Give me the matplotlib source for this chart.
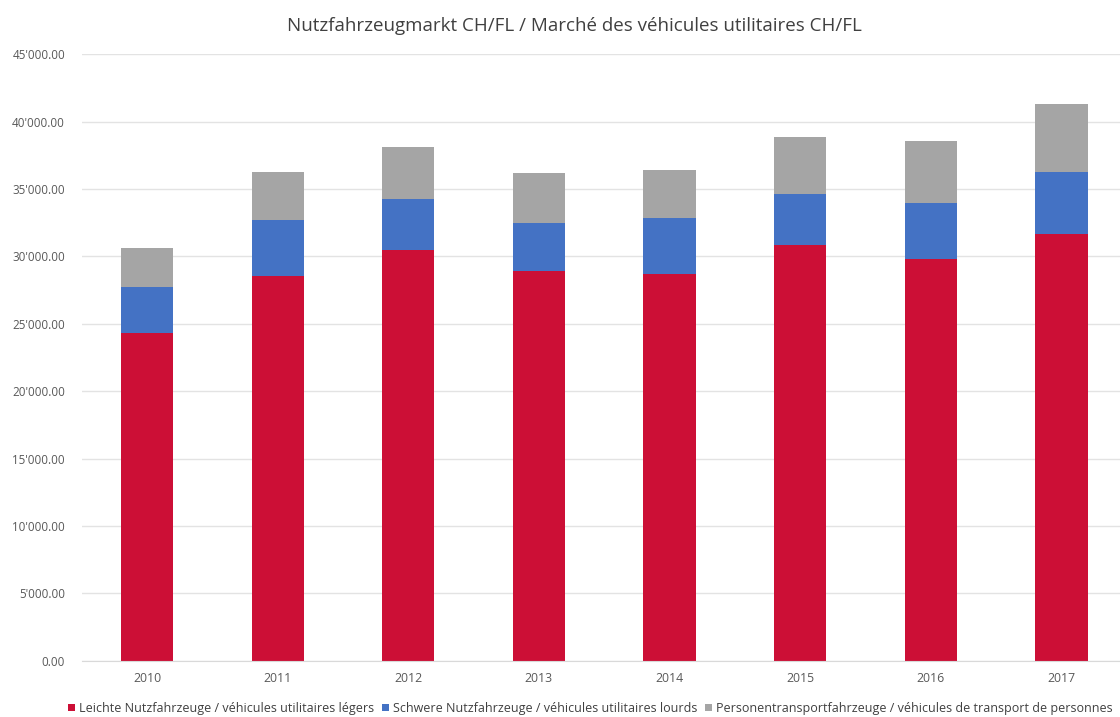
import matplotlib.pyplot as plt
import numpy as np
from matplotlib.ticker import FuncFormatter, MultipleLocator

plt.rcParams['font.family'] = ['Open Sans', 'DejaVu Sans']

# ── Data ──────────────────────────────────────────────────────────────────
years = ['2010', '2011', '2012', '2013', '2014', '2015', '2016', '2017']
light = [24330, 28520, 30440, 28890, 28670, 30810, 29780, 31630]
heavy = [3410, 4210, 3840, 3550, 4140, 3840, 4140, 4650]
persons = [2850, 3550, 3850, 3770, 3620, 4210, 4650, 5030]

labels = [
    'Leichte Nutzfahrzeuge / véhicules utilitaires légers',
    'Schwere Nutzfahrzeuge / véhicules utilitaires lourds',
    'Personentransportfahrzeuge / véhicules de transport de personnes',
]
colors = ['#cc0f36', '#4472c4', '#a5a5a5']

x = np.arange(len(years))
WIDTH = 0.4

fig = plt.figure(figsize=(11.2, 7.17), dpi=100)
ax = fig.add_axes([0.073, 0.0785, 0.933, 0.846])

bottom = np.zeros(len(years))
for vals, lab, col in zip([light, heavy, persons], labels, colors):
    ax.bar(x, vals, WIDTH, bottom=bottom, color=col, label=lab, zorder=2)
    bottom += np.array(vals)

ax.set_xlim(-0.5, len(years) - 0.5)
ax.set_ylim(0, 45000)
ax.yaxis.set_major_locator(MultipleLocator(5000))
ax.yaxis.set_major_formatter(
    FuncFormatter(lambda v, p: f'{v:,.2f}'.replace(',', "'"))
)
ax.set_xticks(x)
ax.set_xticklabels(years)

ax.grid(axis='y', color='#e3e3e3', linewidth=1.0, zorder=0)
ax.set_axisbelow(True)
for s in ['top', 'right', 'left']:
    ax.spines[s].set_visible(False)
ax.spines['bottom'].set_color('#d9d9d9')
ax.tick_params(axis='y', length=0, labelsize=8.4, labelcolor='#595959', pad=12)
ax.tick_params(axis='x', length=0, labelsize=8.8, labelcolor='#595959', pad=8)

fig.text(0.513, 0.964, 'Nutzfahrzeugmarkt CH/FL / Marché des véhicules utilitaires CH/FL',
         ha='center', va='center', fontsize=13.5, color='#404040')

fig.legend(loc='center', bbox_to_anchor=(0.527, 0.012), ncol=3, frameon=False,
           fontsize=9.0, labelcolor='#404040', handlelength=0.6, handleheight=0.6,
           handletextpad=0.3, columnspacing=0.6)

fig.savefig('out.png', dpi=100)
